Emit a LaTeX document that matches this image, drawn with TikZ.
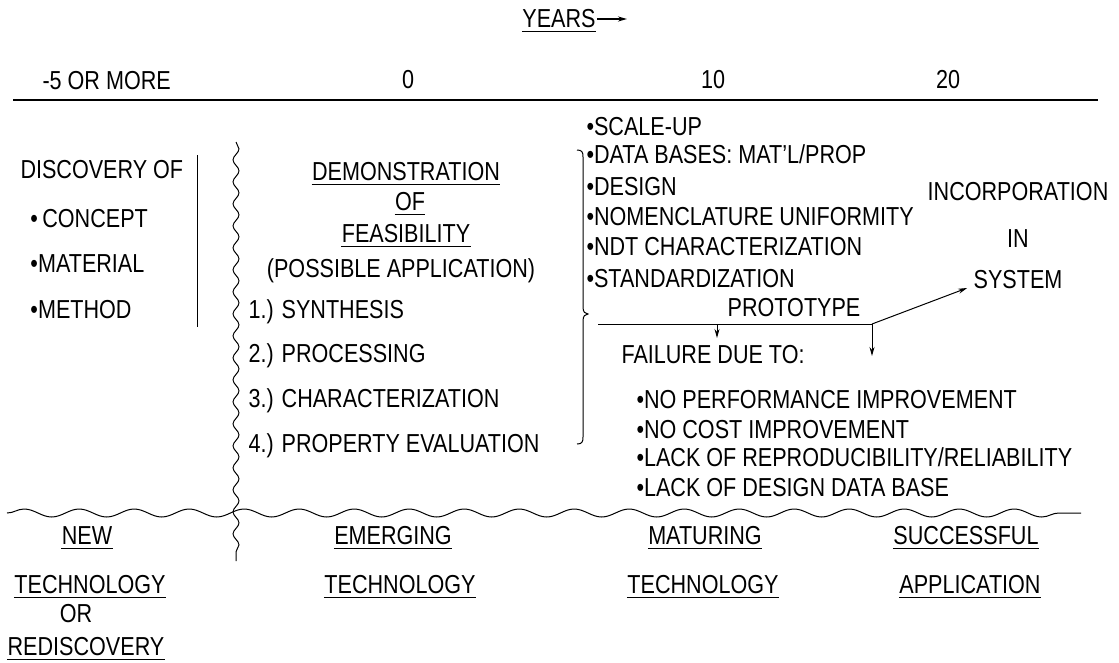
\documentclass[tikz,border=0pt]{standalone}
\usepackage{fontspec}
\setmainfont{Liberation Sans}[FakeStretch=0.83]
\usetikzlibrary{decorations.pathmorphing,arrows.meta}
\tikzstyle{lbl}=[inner sep=0pt,font=\fontsize{26}{30}\selectfont]

\begin{document}
\begin{tikzpicture}[x=1pt,y=-1pt,line width=1pt,>={Stealth[length=9pt,width=5pt]}]
    \tikzstyle{wave}=[decorate,decoration={snake,segment length=55pt,amplitude=4pt}]
    \tikzstyle{vwave}=[decorate,decoration={snake,segment length=22pt,amplitude=3pt}]
    \useasboundingbox (0,0) rectangle (1119,662);

    % time axis
    \node[lbl,anchor=base] (yrs) at (559,27) {YEARS};
    \coordinate (yrsa) at (597,19);
    \coordinate (yrsb) at (627,19);
    \draw[->,line width=1.6pt] (yrsa) -- (yrsb);
    \node[lbl,anchor=base west] (tm5) at (42,89) {-5 OR MORE};
    \node[lbl,anchor=base] (t0)  at (408,88) {0};
    \node[lbl,anchor=base] (t10) at (713,88) {10};
    \node[lbl,anchor=base] (t20) at (948,88) {20};
    \draw[line width=1.3pt] (13,100) -- (1098,100);

    % discovery
    \node[lbl,anchor=base west] (disc) at (20,178) {DISCOVERY OF};
    \node[lbl,anchor=base west] (conc) at (30,227) {\textbullet\,CONCEPT};
    \node[lbl,anchor=base west] (matl) at (30,272) {\textbullet MATERIAL};
    \node[lbl,anchor=base west] (meth) at (30,318) {\textbullet METHOD};
    \draw (197,155) -- (197,327);

    \draw[vwave] (236,142) -- (236,561);

    % feasibility
    \node[lbl,anchor=base] (demo) at (406,180) {DEMONSTRATION};
    \node[lbl,anchor=base] (of)   at (410,210) {OF};
    \node[lbl,anchor=base] (feas) at (406,242) {FEASIBILITY};
    \node[lbl,anchor=base] (poss) at (401,277) {(POSSIBLE APPLICATION)};
    \node[lbl,anchor=base west] (st1) at (248,318) {1.) SYNTHESIS};
    \node[lbl,anchor=base west] (st2) at (248,362) {2.) PROCESSING};
    \node[lbl,anchor=base west] (st3) at (248,407) {3.) CHARACTERIZATION};
    \node[lbl,anchor=base west] (st4) at (248,452) {4.) PROPERTY EVALUATION};

    % maturing
    \node[lbl,anchor=base west] (sc) at (586,135) {\textbullet SCALE-UP};
    \node[lbl,anchor=base west] (db) at (586,163) {\textbullet DATA BASES: MAT'L/PROP};
    \node[lbl,anchor=base west] (de) at (586,195) {\textbullet DESIGN};
    \node[lbl,anchor=base west] (nu) at (586,225) {\textbullet NOMENCLATURE UNIFORMITY};
    \node[lbl,anchor=base west] (nd) at (586,255) {\textbullet NDT CHARACTERIZATION};
    \node[lbl,anchor=base west] (sd) at (586,287) {\textbullet STANDARDIZATION};
    \draw (577,150) .. controls (582,150) and (583,152) .. (583,157) -- (583,307)
        .. controls (583,312) and (585,314) .. (588,314)
        .. controls (585,314) and (583,316) .. (583,321) -- (583,437)
        .. controls (583,442) and (582,444) .. (577,444);

    \node[lbl,anchor=base] (proto) at (794,316) {PROTOTYPE};
    \coordinate (pl) at (598,324);
    \coordinate (pr) at (872,324);
    \coordinate (pm) at (717,324);
    \coordinate (fa1) at (717,338);
    \coordinate (fa2) at (872,356);
    \draw (pl) -- (pr);
    \draw[->] (pm) -- (fa1);
    \draw[->] (pr) -- (fa2);

    \node[lbl,anchor=base] (inc) at (1018,200) {INCORPORATION};
    \node[lbl,anchor=base] (in)  at (1018,247) {IN};
    \node[lbl,anchor=base] (sys) at (1018,288) {SYSTEM};
    \draw[->] (pr) -- ([xshift=-6pt]sys.base west);

    \node[lbl,anchor=base west] (fail) at (621,363) {FAILURE DUE TO:};
    \node[lbl,anchor=base west] (f1) at (636,408) {\textbullet NO PERFORMANCE IMPROVEMENT};
    \node[lbl,anchor=base west] (f2) at (636,438) {\textbullet NO COST IMPROVEMENT};
    \node[lbl,anchor=base west] (f3) at (636,466) {\textbullet LACK OF REPRODUCIBILITY/RELIABILITY};
    \node[lbl,anchor=base west] (f4) at (636,496) {\textbullet LACK OF DESIGN DATA BASE};

    \draw[wave] (7,513) -- (1081,513);

    % stages
    \node[lbl,anchor=base] (new)     at (87,544)  {NEW};
    \node[lbl,anchor=base] (newtech) at (90,593)  {TECHNOLOGY};
    \node[lbl,anchor=base] (or)      at (76,622)  {OR};
    \node[lbl,anchor=base] (redisc)  at (86,655)  {REDISCOVERY};
    \node[lbl,anchor=base] (emer)    at (393,544) {EMERGING};
    \node[lbl,anchor=base] (emtech)  at (400,593) {TECHNOLOGY};
    \node[lbl,anchor=base] (matur)   at (705,544) {MATURING};
    \node[lbl,anchor=base] (mattech) at (703,593) {TECHNOLOGY};
    \node[lbl,anchor=base] (succ)    at (966,544) {SUCCESSFUL};
    \node[lbl,anchor=base] (appl)    at (970,593) {APPLICATION};

    % underlines
    \foreach \n in {yrs,demo,of,feas,new,newtech,redisc,emer,emtech,matur,mattech,succ,appl}
        \draw ([yshift=-4pt]\n.base west) -- ([yshift=-4pt]\n.base east);

\end{tikzpicture}
\end{document}
